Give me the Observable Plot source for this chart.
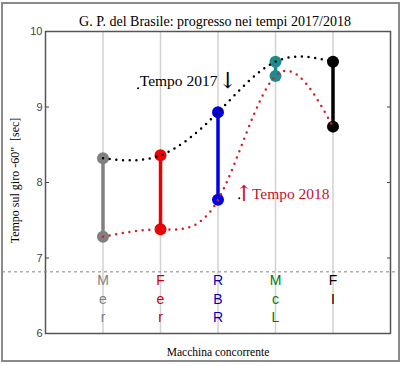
<!DOCTYPE html>
<html>
<head>
<meta charset="utf-8">
<script src="https://cdn.jsdelivr.net/npm/d3@7"></script>
<script src="https://cdn.jsdelivr.net/npm/@observablehq/plot@0.6"></script>
<style>
  body { margin: 0; background: white; }
  #wrap { position: relative; width: 402px; height: 365px; }
</style>
</head>
<body>
<div id="wrap"></div>
<script>
// ---- data ----
const cars = ["Mer", "Fer", "RBR", "McL", "FI"];
const t2017 = [8.32, 8.36, 8.93, 9.60, 9.60];
const t2018 = [7.28, 7.38, 7.77, 9.41, 8.74];
const dotColors = ["#808080", "#ee0000", "#0000e6", "#1e8c8c", "#000000"];
const textColors = ["#808080", "#c80000", "#0000b4", "#007a00", "#000000"];
const yTicks = [6, 7, 8, 9, 10];
const refLine = 6.81;
const title = "G. P. del Brasile: progresso nei tempi 2017/2018";
const yLabel = "Tempo sul giro -60\"  [sec]";
const xLabel = "Macchina concorrente";
const noteTexts = [
  {x: 1.64, y: 9.34, text: "Tempo 2017", color: "#000000"},
  {x: 3.59, y: 7.85, text: "Tempo 2018", color: "#c8102e"}
];
const noteArrows = [
  {x: 3.17, y: 9.35, text: "\u2193", color: "#000000"},
  {x: 3.45, y: 7.85, text: "\u2191", color: "#c8102e"}
];
const noteDots = [
  {x: 1.61, y: 9.25},
  {x: 3.37, y: 7.79}
];

const idx = cars.map((_, i) => i);
const xpos = i => i + 1;
const serif = "'Liberation Serif', 'Times New Roman', serif";
const sans = "'Liberation Sans', Arial, sans-serif";

const chart = Plot.plot({
  width: 402,
  height: 365,
  marginTop: 31,
  marginLeft: 45,
  marginRight: 12,
  marginBottom: 32,
  x: {domain: [0, 6], axis: null},
  y: {domain: [6, 10]},
  style: {background: "white", fontFamily: sans},
  marks: [
    Plot.ruleX(idx, {x: xpos, stroke: "#d2d2d2", strokeWidth: 1.5}),
    Plot.axisY({ticks: yTicks, anchor: "left", tickSize: -4, tickPadding: 7, tickFormat: "d", label: null, fontSize: 11, color: "#444"}),
    Plot.axisY({ticks: yTicks, anchor: "right", tickSize: -4, tickFormat: () => "", label: null, color: "#444"}),
    Plot.frame({stroke: "#555", strokeWidth: 1.5}),
    Plot.text(idx, {
      x: xpos, y: () => refLine,
      text: i => cars[i].split("").join("\n"),
      fill: i => textColors[i],
      lineAnchor: "top", lineHeight: 1.32,
      fontSize: 14, fontFamily: sans
    }),
    Plot.ruleX(idx, {x: xpos, y1: i => t2018[i], y2: i => t2017[i], stroke: i => dotColors[i], strokeWidth: 3.5}),
    Plot.dot(idx, {x: xpos, y: i => t2017[i], r: 6, fill: i => dotColors[i]}),
    Plot.dot(idx, {x: xpos, y: i => t2018[i], r: 6, fill: i => dotColors[i]}),
    Plot.line(idx, {x: xpos, y: i => t2017[i], curve: "natural", stroke: "#000", strokeWidth: 2.5, strokeDasharray: "0,6.7", strokeLinecap: "round"}),
    Plot.line(idx, {x: xpos, y: i => t2018[i], curve: "natural", stroke: "#d0202e", strokeWidth: 2.5, strokeDasharray: "0,6.7", strokeLinecap: "round"}),
    Plot.dot(noteDots, {x: "x", y: "y", r: 1, fill: "#000"}),
    Plot.text(noteTexts, {x: "x", y: "y", text: "text", fill: "color", textAnchor: "start", fontSize: 15.5, fontFamily: serif}),
    Plot.text(noteArrows, {x: "x", y: "y", text: "text", fill: "color", fontSize: 22, fontFamily: "'DejaVu Serif', serif"}),
    Plot.text([title], {frameAnchor: "top", dy: -15, dx: -3, fontSize: 14, fontFamily: serif, fill: "#000"}),
    Plot.text([yLabel], {frameAnchor: "left", textAnchor: "middle", rotate: -90, dx: -30, dy: -2, fontSize: 12, fontFamily: serif, fill: "#000"}),
    Plot.text([xLabel], {frameAnchor: "bottom", dy: 22, fontSize: 11.5, fontFamily: serif, fill: "#000"})
  ]
});

document.getElementById("wrap").appendChild(chart);

const yPix = chart.scale("y").apply(refLine);
const svg = d3.select(chart);
svg.append("line")
  .attr("x1", 2).attr("x2", 400)
  .attr("y1", yPix).attr("y2", yPix)
  .attr("stroke", "#888").attr("stroke-width", 1)
  .attr("stroke-dasharray", "3,3");
svg.append("rect")
  .attr("x", 2).attr("y", 3).attr("width", 397).attr("height", 358)
  .attr("fill", "none").attr("stroke", "#8a8a8a").attr("stroke-width", 2);
</script>
</body>
</html>
